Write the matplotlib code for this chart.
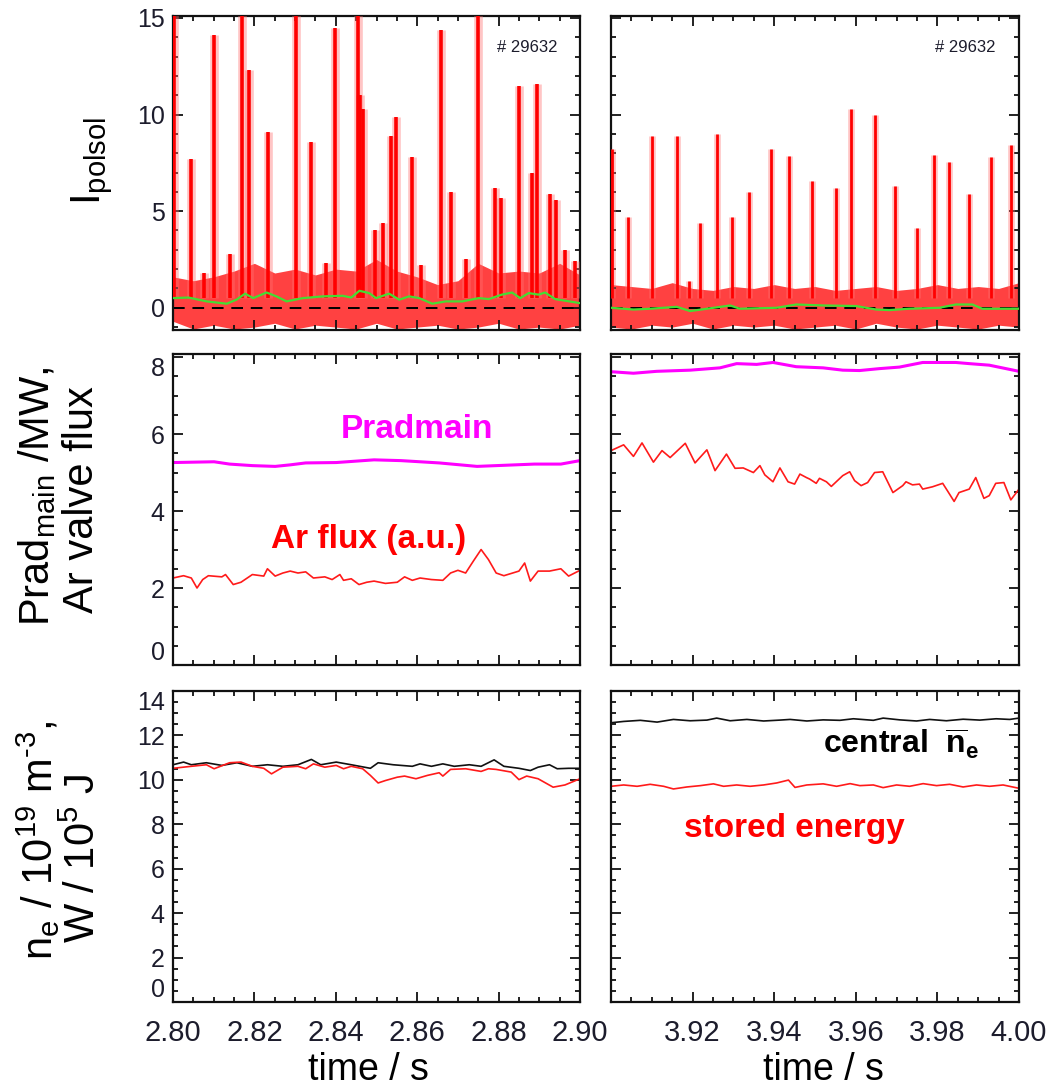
import matplotlib
matplotlib.use("Agg")
import matplotlib.pyplot as plt
import numpy as np
from matplotlib.ticker import MultipleLocator

plt.rcParams['font.family'] = ['Liberation Sans', 'DejaVu Sans']
plt.rcParams['mathtext.fontset'] = 'custom'
plt.rcParams['mathtext.rm'] = 'Liberation Sans'
plt.rcParams['mathtext.it'] = 'Liberation Sans:italic'
plt.rcParams['mathtext.bf'] = 'Liberation Sans:bold'
plt.rcParams['mathtext.default'] = 'regular'

# ---- top row: I_polsol ----
# noise band envelope, sampled every 5 ms
band_t_l = np.linspace(2.80, 2.90, 21)
band_hi_l = [1.6, 1.4, 1.6, 1.9, 2.3, 1.8, 2.0, 1.7, 2.0, 1.9, 2.5,
             1.9, 1.6, 1.2, 1.4, 2.3, 1.8, 1.9, 1.8, 2.3, 1.7]
band_lo_l = [-0.7, -1.1, -0.9, -1.1, -1.0, -0.8, -1.1, -0.9, -1.0, -1.1, -0.8,
             -1.1, -1.0, -0.9, -1.1, -1.0, -0.8, -1.1, -1.0, -1.1, -0.9]
band_t_r = np.linspace(3.90, 4.00, 21)
band_hi_r = [1.2, 1.1, 1.0, 1.3, 1.0, 0.9, 1.1, 1.0, 1.2, 1.0, 1.1,
             0.9, 1.0, 1.1, 0.9, 1.0, 1.2, 1.0, 1.1, 1.0, 1.3]
band_lo_r = [-1.0, -1.1, -0.9, -1.0, -0.8, -1.1, -0.9, -1.0, -0.9, -1.1, -1.0,
             -0.9, -1.1, -0.8, -1.0, -1.1, -0.9, -1.0, -1.1, -0.9, -1.0]

# ELM spikes (time, peak)
spk_t_l = [2.8002, 2.8044, 2.8101, 2.8169, 2.8187, 2.8234, 2.8303, 2.8338, 2.8397,
           2.8454, 2.8460, 2.8468, 2.8536, 2.8548, 2.8587, 2.8658, 2.8682, 2.8750,
           2.8792, 2.8807, 2.8849, 2.8882, 2.8894, 2.8927, 2.8941,
           2.8075, 2.8140, 2.8377, 2.8496, 2.8515, 2.8609, 2.8719, 2.8963, 2.8988]
spk_h_l = [15.5, 7.7, 14.1, 15.5, 12.3, 9.1, 15.3, 8.6, 14.5,
           15.3, 11.0, 10.3, 8.9, 9.85, 7.8, 14.35, 6.0, 15.5,
           6.2, 5.7, 11.5, 7.0, 11.6, 5.9, 5.6,
           1.8, 2.8, 2.3, 4.0, 4.4, 2.2, 2.5, 3.0, 2.4]
spk_t_r = [3.9002, 3.9042, 3.9100, 3.9161, 3.9191, 3.9218, 3.9259, 3.9296, 3.9338,
           3.9393, 3.9436, 3.9493, 3.9551, 3.9589, 3.9647, 3.9696, 3.9749, 3.9792,
           3.9829, 3.9878, 3.9931, 3.9980]
spk_h_r = [8.2, 4.7, 8.9, 8.9, 1.4, 4.4, 9.0, 4.7, 6.0,
           8.2, 7.85, 6.55, 6.2, 10.3, 10.0, 6.3, 4.15, 7.9,
           7.55, 5.9, 7.8, 8.4]

# smoothed signal (green)
sm_t_l = [2.8000, 2.8038, 2.8083, 2.8132, 2.8156, 2.8177, 2.8197, 2.8230, 2.8254,
          2.8279, 2.8319, 2.8368, 2.8417, 2.8438, 2.8458, 2.8482, 2.8499, 2.8531,
          2.8556, 2.8580, 2.8605, 2.8637, 2.8670, 2.8711, 2.8751, 2.8776, 2.8808,
          2.8833, 2.8853, 2.8874, 2.8898, 2.8914, 2.8939, 2.9000]
sm_v_l = [0.50, 0.53, 0.33, 0.21, 0.42, 0.73, 0.50, 0.79, 0.59,
          0.33, 0.50, 0.59, 0.62, 0.53, 0.88, 0.76, 0.50, 0.73,
          0.42, 0.59, 0.50, 0.21, 0.33, 0.33, 0.50, 0.45, 0.68,
          0.79, 0.50, 0.76, 0.68, 0.79, 0.45, 0.24]
sm_t_r = [3.9000, 3.9055, 3.9096, 3.9161, 3.9194, 3.9235, 3.9292, 3.9316, 3.9406,
          3.9454, 3.9520, 3.9601, 3.9650, 3.9682, 3.9731, 3.9805, 3.9845, 3.9886,
          3.9910, 4.0000]
sm_v_r = [0.0, -0.09, -0.05, 0.05, -0.17, -0.05, 0.12, -0.05, 0.0,
          0.17, 0.12, 0.09, -0.09, -0.12, -0.05, 0.0, 0.17, 0.17,
          -0.05, -0.05]

# ---- middle row: Prad main and Ar valve flux ----
prad_t_l = [2.8000, 2.8101, 2.8139, 2.8195, 2.8251, 2.8288, 2.8326, 2.8401,
            2.8494, 2.8560, 2.8654, 2.8747, 2.8794, 2.8888, 2.8953, 2.9000]
prad_v_l = [5.26, 5.28, 5.22, 5.18, 5.16, 5.20, 5.25, 5.26,
            5.33, 5.31, 5.25, 5.16, 5.18, 5.22, 5.22, 5.31]
prad_t_r = [3.9000, 3.9055, 3.9112, 3.9194, 3.9267, 3.9308, 3.9357, 3.9397, 3.9454,
            3.9520, 3.9568, 3.9609, 3.9658, 3.9707, 3.9764, 3.9845, 3.9878, 3.9927, 4.0000]
prad_v_r = [7.62, 7.58, 7.63, 7.66, 7.72, 7.83, 7.81, 7.86, 7.75,
            7.72, 7.66, 7.65, 7.70, 7.74, 7.86, 7.86, 7.83, 7.79, 7.63]

ar_t_l = [2.8000, 2.8026, 2.8045, 2.8059, 2.8073, 2.8087, 2.8120, 2.8129, 2.8148,
          2.8167, 2.8195, 2.8223, 2.8232, 2.8251, 2.8270, 2.8288, 2.8307, 2.8326,
          2.8345, 2.8373, 2.8391, 2.8410, 2.8419, 2.8438, 2.8457, 2.8476, 2.8494,
          2.8522, 2.8551, 2.8569, 2.8588, 2.8607, 2.8635, 2.8663, 2.8682, 2.8700,
          2.8719, 2.8738, 2.8757, 2.8775, 2.8794, 2.8813, 2.8850, 2.8864, 2.8878,
          2.8897, 2.8925, 2.8953, 2.8972, 2.9000]
ar_v_l = [2.26, 2.32, 2.26, 2.00, 2.22, 2.32, 2.29, 2.35, 2.09,
          2.15, 2.35, 2.31, 2.50, 2.31, 2.39, 2.44, 2.39, 2.42,
          2.26, 2.29, 2.22, 2.35, 2.20, 2.24, 2.09, 2.15, 2.18,
          2.12, 2.15, 2.29, 2.20, 2.26, 2.22, 2.20, 2.39, 2.46,
          2.39, 2.70, 3.00, 2.74, 2.39, 2.32, 2.44, 2.65, 2.18,
          2.44, 2.44, 2.50, 2.31, 2.46]
ar_t_r = [3.9000, 3.9031, 3.9055, 3.9076, 3.9104, 3.9125, 3.9145, 3.9182, 3.9206,
          3.9235, 3.9255, 3.9283, 3.9304, 3.9324, 3.9349, 3.9365, 3.9377, 3.9397,
          3.9414, 3.9434, 3.9450, 3.9463, 3.9479, 3.9487, 3.9503, 3.9511, 3.9528,
          3.9540, 3.9568, 3.9585, 3.9597, 3.9613, 3.9629, 3.9646, 3.9666, 3.9691,
          3.9715, 3.9723, 3.9739, 3.9756, 3.9764, 3.9788, 3.9813, 3.9825, 3.9841,
          3.9853, 3.9878, 3.9894, 3.9914, 3.9927, 3.9943, 3.9963, 3.9980, 4.0000]
ar_v_r = [5.57, 5.72, 5.42, 5.77, 5.27, 5.57, 5.39, 5.76, 5.25,
          5.59, 5.05, 5.48, 5.11, 5.12, 5.00, 5.18, 4.94, 4.76,
          5.12, 4.76, 4.70, 4.96, 4.87, 4.83, 4.72, 4.85, 4.76,
          4.64, 4.92, 5.02, 4.79, 4.66, 4.74, 5.00, 5.02, 4.48,
          4.66, 4.76, 4.68, 4.70, 4.57, 4.63, 4.72, 4.52, 4.25,
          4.48, 4.57, 4.87, 4.33, 4.40, 4.72, 4.74, 4.29, 4.57]

# ---- bottom row: line averaged density and stored energy ----
ne_t_l = [2.8000, 2.8026, 2.8045, 2.8082, 2.8120, 2.8157, 2.8195, 2.8232, 2.8270,
          2.8307, 2.8340, 2.8363, 2.8401, 2.8438, 2.8485, 2.8504, 2.8541, 2.8588,
          2.8607, 2.8635, 2.8663, 2.8691, 2.8728, 2.8757, 2.8789, 2.8813, 2.8850,
          2.8878, 2.8897, 2.8925, 2.8944, 2.8972, 2.9000]
ne_v_l = [10.68, 10.80, 10.68, 10.77, 10.65, 10.77, 10.61, 10.68, 10.61,
          10.68, 10.92, 10.68, 10.80, 10.68, 10.52, 10.77, 10.68, 10.61,
          10.72, 10.61, 10.72, 10.61, 10.68, 10.61, 10.90, 10.61, 10.52,
          10.42, 10.57, 10.68, 10.50, 10.52, 10.52]
w_t_l = [2.8000, 2.8045, 2.8082, 2.8101, 2.8139, 2.8167, 2.8195, 2.8223, 2.8242,
         2.8270, 2.8307, 2.8326, 2.8345, 2.8373, 2.8401, 2.8419, 2.8438, 2.8466,
         2.8485, 2.8504, 2.8522, 2.8551, 2.8569, 2.8597, 2.8625, 2.8654, 2.8663,
         2.8682, 2.8719, 2.8757, 2.8775, 2.8794, 2.8831, 2.8850, 2.8869, 2.8897,
         2.8934, 2.8963, 2.9000]
w_v_l = [10.52, 10.61, 10.68, 10.50, 10.77, 10.80, 10.61, 10.52, 10.27,
         10.57, 10.61, 10.50, 10.72, 10.57, 10.65, 10.50, 10.61, 10.50,
         10.20, 9.86, 9.97, 10.12, 10.17, 10.05, 10.20, 10.32, 10.17,
         10.47, 10.50, 10.38, 10.50, 10.47, 10.35, 10.01, 10.17, 10.05,
         9.67, 9.77, 10.05]
ne_t_r = [3.9000, 3.9031, 3.9072, 3.9113, 3.9153, 3.9194, 3.9235, 3.9259, 3.9292,
          3.9333, 3.9374, 3.9414, 3.9439, 3.9480, 3.9520, 3.9561, 3.9594, 3.9643,
          3.9667, 3.9708, 3.9749, 3.9781, 3.9822, 3.9863, 3.9904, 3.9944, 3.9977, 4.0000]
ne_v_r = [12.57, 12.63, 12.68, 12.60, 12.72, 12.66, 12.69, 12.78, 12.66,
          12.72, 12.65, 12.69, 12.72, 12.65, 12.70, 12.68, 12.75, 12.68,
          12.78, 12.70, 12.65, 12.72, 12.66, 12.73, 12.69, 12.75, 12.72, 12.78]
w_t_r = [3.9000, 3.9031, 3.9064, 3.9096, 3.9129, 3.9153, 3.9186, 3.9219, 3.9251,
         3.9276, 3.9308, 3.9341, 3.9374, 3.9406, 3.9435, 3.9451, 3.9480, 3.9520,
         3.9553, 3.9586, 3.9610, 3.9643, 3.9667, 3.9700, 3.9732, 3.9765, 3.9798,
         3.9830, 3.9863, 3.9896, 3.9928, 3.9961, 4.0000]
w_v_r = [9.71, 9.77, 9.71, 9.80, 9.71, 9.59, 9.68, 9.74, 9.82,
         9.71, 9.77, 9.71, 9.77, 9.86, 9.99, 9.66, 9.77, 9.82,
         9.71, 9.83, 9.74, 9.77, 9.65, 9.77, 9.71, 9.83, 9.74,
         9.80, 9.68, 9.77, 9.71, 9.77, 9.62]

xticks_l = [2.80, 2.82, 2.84, 2.86, 2.88, 2.90]
xticks_r = [3.90, 3.92, 3.94, 3.96, 3.98, 4.00]
xlabels_l = ['2.80', '2.82', '2.84', '2.86', '2.88', '2.90']
xlabels_r = ['', '3.92', '3.94', '3.96', '3.98', '4.00']

W, H = 1053, 1089
fig = plt.figure(figsize=(W / 100, H / 100), dpi=100)

def px_axes(x0, y0, x1, y1):
    return fig.add_axes([x0 / W, 1 - y1 / H, (x1 - x0) / W, (y1 - y0) / H])

tick_col = '#1c1c2c'
rows = [(16, 330), (354, 665), (691, 1002)]
cols = [(173, 580), (611, 1019)]
axes = [[px_axes(c[0], r[0], c[1], r[1]) for c in cols] for r in rows]

ylims = [(-1.15, 15.1), (0, 8.08), (0, 14)]
ymaj = [5, 2, 2]
ymin = [1, 0.5, 0.5]
for i in range(3):
    for j in range(2):
        ax = axes[i][j]
        ax.set_ylim(*ylims[i])
        ax.set_xlim(*((2.80, 2.90) if j == 0 else (3.90, 4.00)))
        ax.set_xticks(xticks_l if j == 0 else xticks_r)
        ax.xaxis.set_minor_locator(MultipleLocator(0.005))
        ax.yaxis.set_major_locator(MultipleLocator(ymaj[i]))
        ax.yaxis.set_minor_locator(MultipleLocator(ymin[i]))
        ax.tick_params(which='both', direction='in', top=True, right=True,
                       width=1.3, color='#111111')
        ax.tick_params(which='major', length=7)
        ax.tick_params(which='minor', length=3.5)
        ax.tick_params(axis='y', labelsize=18, pad=6, labelcolor=tick_col)
        ax.tick_params(axis='x', labelsize=21, pad=12, labelcolor=tick_col)
        for s in ax.spines.values():
            s.set_linewidth(1.6)
            s.set_color('#111111')
        if j == 1:
            ax.set_yticklabels([])
        if i < 2:
            ax.set_xticklabels([])
        else:
            ax.set_xticklabels(xlabels_l if j == 0 else xlabels_r)

# top row
for j, (bt, bh, bl, st, sh, mt, mv, lw) in enumerate([
        (band_t_l, band_hi_l, band_lo_l, spk_t_l, spk_h_l, sm_t_l, sm_v_l, 2.6),
        (band_t_r, band_hi_r, band_lo_r, spk_t_r, spk_h_r, sm_t_r, sm_v_r, 2.0)]):
    ax = axes[0][j]
    ax.fill_between(bt, bl, bh, color='#ff2020', alpha=0.85, lw=0, zorder=1)
    ax.axhline(0, color='black', lw=1.4, ls=(0, (6, 4)), zorder=2)
    ax.vlines(st, 0.5, sh, color='#ff7070', lw=lw * 2.4, alpha=0.4, zorder=3)
    ax.vlines(st, 0.5, sh, color='#ff0000', lw=lw, zorder=4)
    ax.plot(mt, mv, color='#44dd33', lw=1.6, zorder=5)
    ax.text(0.795, 0.885, '# 29632', transform=ax.transAxes, fontsize=12,
            color='#1c1c2c', ha='left', va='baseline')

# middle row
axes[1][0].plot(prad_t_l, prad_v_l, color='#ff00ff', lw=2.2)
axes[1][1].plot(prad_t_r, prad_v_r, color='#ff00ff', lw=2.2)
axes[1][0].plot(ar_t_l, ar_v_l, color='#ff1a1a', lw=1.2)
axes[1][1].plot(ar_t_r, ar_v_r, color='#ff1a1a', lw=1.2)
axes[1][0].text(2.860, 6.13, 'Pradmain', color='#ff00ff', fontsize=24,
                fontweight='bold', ha='center', va='center')
axes[1][0].text(2.848, 3.25, 'Ar flux (a.u.)', color='#ff0000', fontsize=24,
                fontweight='bold', ha='center', va='center')

# bottom row
axes[2][0].plot(ne_t_l, ne_v_l, color='#111111', lw=1.2)
axes[2][0].plot(w_t_l, w_v_l, color='#ff1a1a', lw=1.2)
axes[2][1].plot(ne_t_r, ne_v_r, color='#111111', lw=1.2)
axes[2][1].plot(w_t_r, w_v_r, color='#ff1a1a', lw=1.2)
axes[2][1].text(3.952, 11.15, r'central  $\overline{\mathbf{n}}_{\mathbf{e}}$',
                color='black', fontsize=23, fontweight='bold', ha='left', va='baseline')
axes[2][1].text(3.918, 7.45, 'stored energy', color='#ff0000', fontsize=24,
                fontweight='bold', ha='left', va='baseline')

# axis titles
fig.text(92 / W, 1 - 161 / H, r'I$_{polsol}$', rotation=90, fontsize=30,
         ha='center', va='center')
fig.text(37 / W, 1 - 496 / H, r'Prad$_{main}$ /MW,', rotation=90, fontsize=30,
         ha='center', va='center')
fig.text(82 / W, 1 - 500 / H, 'Ar valve flux', rotation=90, fontsize=30,
         ha='center', va='center')
fig.text(38 / W, 1 - 840 / H, r'n$_{e}$ / 10$^{19}$ m$^{\text{-3}}$,', rotation=90,
         fontsize=30, ha='center', va='center')
fig.text(84 / W, 1 - 858 / H, r'W / 10$^{5}$ J', rotation=90, fontsize=30,
         ha='center', va='center')
fig.text(368 / W, 1 - 1080 / H, 'time / s', fontsize=27, ha='center', va='baseline')
fig.text(823 / W, 1 - 1080 / H, 'time / s', fontsize=27, ha='center', va='baseline')

# tick labels at the axis ends are pushed inside, as in the original
fig.canvas.draw()
for i in (1, 2):
    ax = axes[i][0]
    lo, hi = ylims[i]
    for tk in ax.yaxis.get_major_ticks():
        v = tk.get_loc()
        if v is None:
            continue
        if abs(v - lo) < 1e-6:
            tk.label1.set_verticalalignment('bottom')
        elif lo < v <= hi and hi - v < 0.2:
            tk.label1.set_verticalalignment('top')

fig.savefig('out.png', dpi=100, facecolor='white')
